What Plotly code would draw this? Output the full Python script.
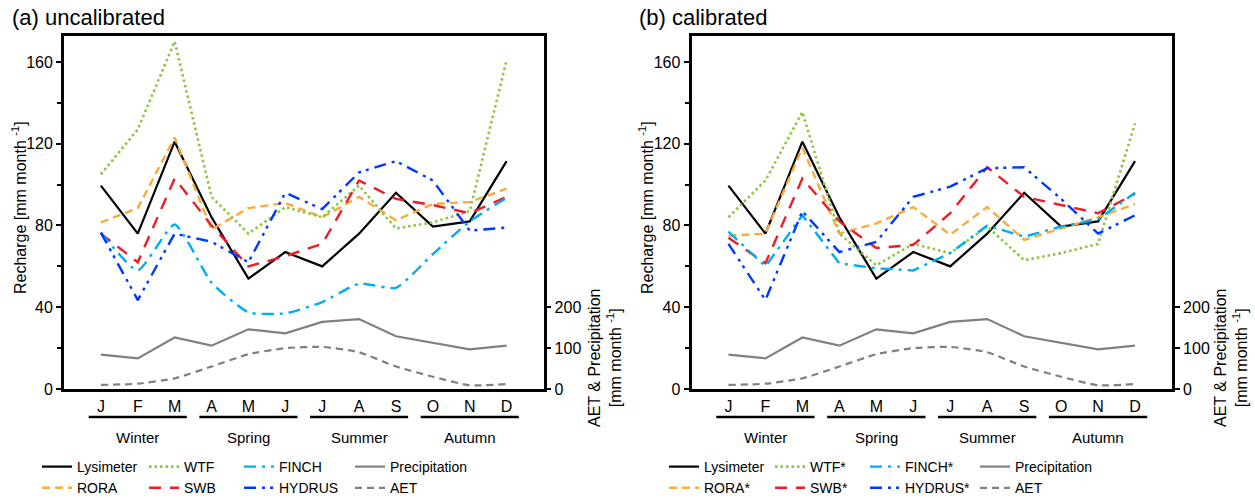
import plotly.graph_objects as go

# months on the x axis
months = ["J", "F", "M", "A", "M", "J", "J", "A", "S", "O", "N", "D"]
month_pos = list(range(1, 13))
seasons = ["Winter", "Spring", "Summer", "Autumn"]
season_start = [1, 4, 7, 10]

# recharge [mm/month]
lysimeter = [99.5, 76, 121, 84, 54, 67, 60, 76, 96, 79.5, 82, 111.5]

# (a) uncalibrated
wtf_a = [105, 127, 170, 94, 76, 89, 84, 99.5, 78.5, 81.5, 87, 161]
rora_a = [81.5, 88.5, 123, 78, 88.5, 91, 84, 94, 82.5, 90.5, 91.5, 98]
swb_a = [76, 62, 103, 80, 60, 65, 71, 102, 93, 90, 86, 94]
finch_a = [76.5, 58, 80.5, 52, 37.5, 37, 42.5, 51.5, 49.5, 66, 82, 93.5]
hydrus_a = [76.5, 43.5, 76, 72, 62, 96, 88, 106, 111.5, 102, 77.5, 79]

# (b) calibrated
wtf_b = [84, 102, 135.5, 76, 60.5, 71, 66.5, 79.5, 63, 66.5, 71, 130]
rora_b = [75, 76, 118, 76, 81, 89, 75.5, 89, 73, 78.5, 84, 90.5]
swb_b = [74, 61.5, 103, 82, 69, 70.5, 86, 108.5, 94, 90, 86, 95.5]
finch_b = [77, 60, 85, 61.5, 59, 58, 66.5, 80, 74.5, 79.5, 83, 96]
hydrus_b = [71, 43.5, 87, 67, 72, 94, 99, 108, 108.5, 93, 76, 85]

# climate [mm/month], right axis
precipitation = [84, 75, 126, 106, 146, 136, 164, 171, 129, 113, 97, 106]
aet = [10, 13, 26, 55, 85, 100, 103, 90, 55, 30, 9, 12]

FONT = "Arial, Liberation Sans, sans-serif"
W, H = 1255, 498
ML, MR, MT, MB = 64, 83, 36, 109
PW = W - ML - MR
PH = H - MT - MB


def px(x):
    return (x - ML) / PW


def py(y):
    return (H - MB - y) / PH


styles = {
    "Lysimeter": dict(color="black", width=2.2, dash="solid"),
    "WTF": dict(color="#8CC63F", width=2.6, dash="2.5px,3px"),
    "RORA": dict(color="#FBAA3C", width=2.4, dash="8px,5px"),
    "SWB": dict(color="#EE1C25", width=2.4, dash="12px,9px"),
    "FINCH": dict(color="#00AEEF", width=2.4, dash="12px,6px,3px,6px"),
    "HYDRUS": dict(color="#0038FF", width=2.4, dash="12px,6px,3px,5px,3px,6px"),
    "Precipitation": dict(color="#808080", width=2.2, dash="solid"),
    "AET": dict(color="#808080", width=2.2, dash="7px,5px"),
}

fig = go.Figure()

panels = [
    ("x", "y", "y2", "", dict(WTF=wtf_a, RORA=rora_a, SWB=swb_a, FINCH=finch_a, HYDRUS=hydrus_a), [1, 2, 3, 4]),
    ("x2", "y3", "y4", "*", dict(WTF=wtf_b, RORA=rora_b, SWB=swb_b, FINCH=finch_b, HYDRUS=hydrus_b), [5, 6, 7, 8]),
]

for xa, ya, ya2, star, models, legs in panels:
    lg = ["legend" if n == 1 else f"legend{n}" for n in legs]
    entries = [
        ("Lysimeter", "Lysimeter", lysimeter, ya, lg[0], "linear"),
        ("RORA", "RORA" + star, models["RORA"], ya, lg[0], "linear"),
        ("WTF", "WTF" + star, models["WTF"], ya, lg[1], "linear"),
        ("SWB", "SWB" + star, models["SWB"], ya, lg[1], "linear"),
        ("FINCH", "FINCH" + star, models["FINCH"], ya, lg[2], "spline" if not star else "linear"),
        ("HYDRUS", "HYDRUS" + star, models["HYDRUS"], ya, lg[2], "linear"),
        ("Precipitation", "Precipitation", precipitation, ya2, lg[3], "linear"),
        ("AET", "AET", aet, ya2, lg[3], "spline"),
    ]
    for key, name, vals, yax, leg, shape in entries:
        st = styles[key]
        fig.add_trace(go.Scatter(
            x=month_pos, y=vals, name=name, mode="lines",
            line=dict(color=st["color"], width=st["width"], dash=st["dash"], shape=shape, smoothing=0.5),
            xaxis=xa, yaxis=yax, legend=leg, hoverinfo="skip",
        ))

axis_common = dict(showline=True, linecolor="black", linewidth=2.8, showgrid=False, zeroline=False,
                   tickfont=dict(family=FONT, size=16, color="black"))

x_ax = dict(axis_common, range=[0, 13], tickvals=month_pos, ticktext=months, ticks="",
            ticklabelstandoff=1, mirror=True)
y_left = dict(axis_common, range=[0, 172.7], tickvals=[0, 40, 80, 120, 160], ticks="outside",
              ticklen=5, tickwidth=2, tickcolor="black",
              minor=dict(tickvals=[20, 60, 100, 140], ticks="outside", ticklen=4, tickwidth=2, tickcolor="black"))
y_right = dict(axis_common, range=[0, 863.5], tickvals=[0, 100, 200], ticks="outside", ticklen=5,
               tickwidth=2, tickcolor="black", side="right")

dom_a = [0, px(543.5)]
dom_b = [px(691.5), 1]

fig.update_layout(
    width=W, height=H,
    margin=dict(l=ML, r=MR, t=MT, b=MB, autoexpand=False),
    paper_bgcolor="white", plot_bgcolor="white",
    font=dict(family=FONT, size=15, color="black"),
    xaxis=dict(x_ax, domain=dom_a, anchor="y"),
    yaxis=dict(y_left, anchor="x"),
    yaxis2=dict(y_right, anchor="x", overlaying="y"),
    xaxis2=dict(x_ax, domain=dom_b, anchor="y3"),
    yaxis3=dict(y_left, anchor="x2"),
    yaxis4=dict(y_right, anchor="x2", overlaying="y3"),
    showlegend=True,
)

# one small two-row legend per column
leg_x = [37, 144, 239, 350, 664, 770, 865, 975]
for i, lx in enumerate(leg_x, start=1):
    key = "legend" if i == 1 else f"legend{i}"
    fig.update_layout({key: dict(
        x=px(lx), y=py(451), xanchor="left", yanchor="top", orientation="v",
        bgcolor="rgba(0,0,0,0)", font=dict(family=FONT, size=14, color="black"),
        itemwidth=30, tracegroupgap=0,
    )})

shapes = []
annotations = []
for xa, title, tx, ylab_x, rlab_x in [("x", "(a) uncalibrated", 10, 19, 605),
                                       ("x2", "(b) calibrated", 637, 646, 1231)]:
    for s, name in zip(season_start, seasons):
        shapes.append(dict(type="line", xref=xa, yref="paper", x0=s - 0.33, x1=s + 2.33,
                           y0=py(417), y1=py(417), line=dict(color="black", width=2.5)))
        annotations.append(dict(text=name, xref=xa, yref="paper", x=s + 1, y=py(437),
                                showarrow=False, font=dict(size=15), xanchor="center", yanchor="middle"))
    annotations.append(dict(text=title, xref="paper", yref="paper", x=px(tx), y=py(18),
                            showarrow=False, font=dict(size=22), xanchor="left", yanchor="middle"))
    annotations.append(dict(text="Recharge [mm month <sup>-1</sup>]", xref="paper", yref="paper",
                            x=px(ylab_x), y=py(208), textangle=-90, showarrow=False,
                            font=dict(size=16), xanchor="center", yanchor="middle"))
    annotations.append(dict(text="AET & Precipitation<br>[mm month <sup>-1</sup>]", xref="paper", yref="paper",
                            x=px(rlab_x), y=py(358), textangle=-90, showarrow=False,
                            font=dict(size=16), xanchor="center", yanchor="middle"))

fig.update_layout(shapes=shapes, annotations=annotations)

fig.write_html("out.html", config={"displayModeBar": False},
               post_script="document.body.style.margin='0';")
